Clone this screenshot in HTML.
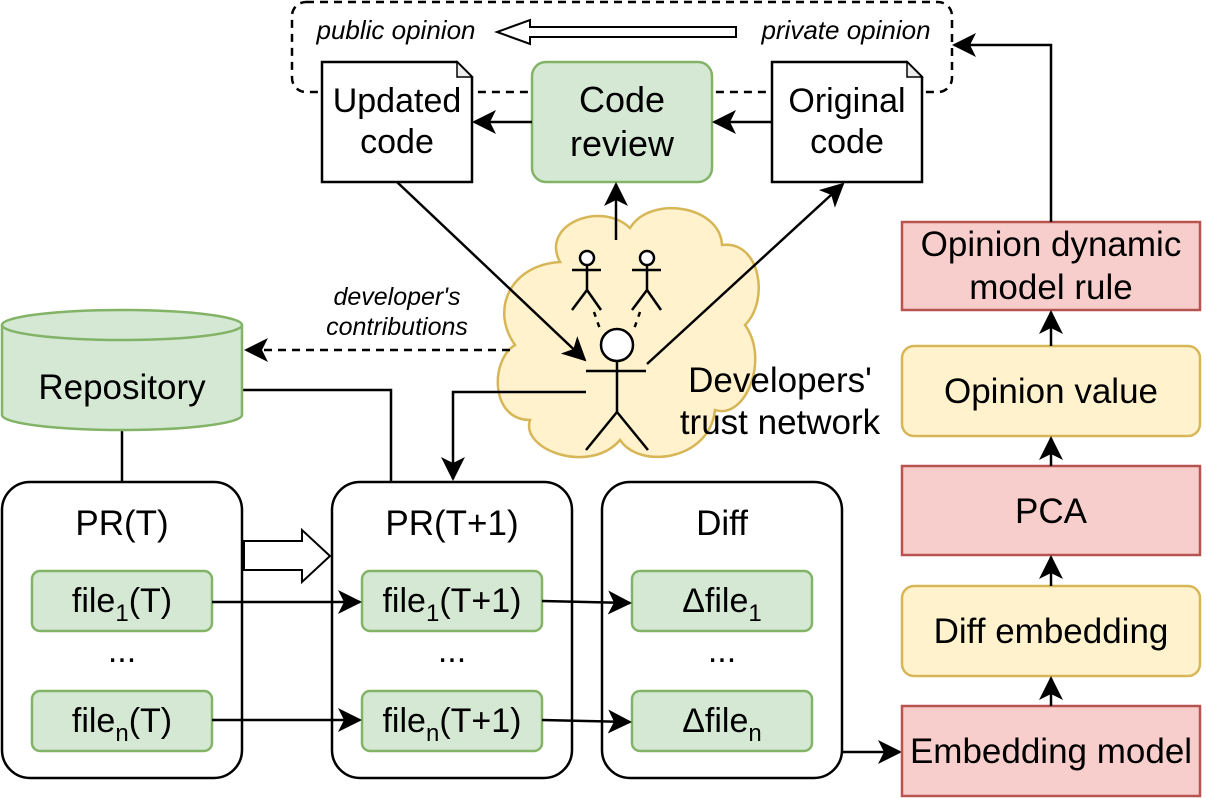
<!DOCTYPE html>
<html><head><meta charset="utf-8"><style>
html,body{margin:0;padding:0;background:#fff;}
svg{display:block;font-family:"Liberation Sans",Arial,sans-serif;}
</style></head><body>
<svg width="1206" height="798" viewBox="0 0 1206 798" xmlns="http://www.w3.org/2000/svg">
<defs>
<marker id="b" markerWidth="24" markerHeight="24" viewBox="0 0 12 12" refX="11" refY="6" orient="auto" markerUnits="userSpaceOnUse">
<path d="M0,0 L12,6 L0,12 L3,6 Z" fill="#000"/>
</marker>
</defs>
<g stroke="#000" stroke-width="2.5" fill="none">
<rect x="292" y="2" width="660" height="90" rx="14" stroke-dasharray="8,6"/>
</g>
<path d="M736,27 L530,27 L530,20 L497,32 L530,44 L530,37 L736,37 Z" fill="#fff" stroke="#000" stroke-width="2"/>
<text x="396" y="39" font-size="26" font-style="italic" text-anchor="middle">public opinion</text>
<text x="846" y="39" font-size="26" font-style="italic" text-anchor="middle">private opinion</text>

<path d="M322,62 L457,62 L472,77 L472,182 L322,182 Z" fill="#fff" stroke="#000" stroke-width="2.5"/>
<path d="M457,62 L457,77 L472,77 Z" fill="#eee" stroke="#000" stroke-width="1.5"/>
<text x="397" y="112" font-size="34" text-anchor="middle">Updated</text>
<text x="397" y="153" font-size="34" text-anchor="middle">code</text>
<path d="M772,62 L907,62 L922,77 L922,182 L772,182 Z" fill="#fff" stroke="#000" stroke-width="2.5"/>
<path d="M907,62 L907,77 L922,77 Z" fill="#eee" stroke="#000" stroke-width="1.5"/>
<text x="847" y="112" font-size="34" text-anchor="middle">Original</text>
<text x="847" y="153" font-size="34" text-anchor="middle">code</text>
<rect x="532" y="62" width="180" height="120" rx="14" fill="#d5e8d4" stroke="#82b366" stroke-width="2.5"/>
<text x="622" y="112" font-size="36" text-anchor="middle">Code</text>
<text x="622" y="156" font-size="36" text-anchor="middle">review</text>

<g stroke="#000" stroke-width="2.5" fill="none">
<line x1="532" y1="122" x2="474" y2="122" marker-end="url(#b)"/>
<line x1="772" y1="122" x2="714" y2="122" marker-end="url(#b)"/>
</g>

<path d="M560,262 C540,225 600,200 630,228 C650,195 720,205 722,245 C760,240 770,300 745,325 C770,360 745,420 715,410 C710,460 640,470 620,440 C590,475 520,450 530,420 C490,420 490,360 515,345 C490,310 510,265 560,262 Z" fill="#fff2cc" stroke="#d6b656" stroke-width="2.5"/>

<g stroke="#000" stroke-width="2.5" fill="none">
<line x1="616" y1="240" x2="616" y2="184" marker-end="url(#b)"/>
<line x1="397" y1="182" x2="585" y2="360" marker-end="url(#b)"/>
<line x1="647" y1="364" x2="843" y2="184" marker-end="url(#b)"/>
<circle cx="587" cy="258" r="7" fill="#fff"/>
<line x1="572" y1="270" x2="601" y2="270"/><line x1="587" y1="265" x2="587" y2="290"/>
<line x1="572" y1="310" x2="587" y2="290"/><line x1="601" y1="310" x2="587" y2="290"/>
<circle cx="647" cy="258" r="7" fill="#fff"/>
<line x1="632" y1="270" x2="661" y2="270"/><line x1="647" y1="265" x2="647" y2="290"/>
<line x1="632" y1="310" x2="647" y2="290"/><line x1="661" y1="310" x2="647" y2="290"/>
<line x1="594" y1="312" x2="601" y2="332" stroke-dasharray="5,6"/>
<line x1="640" y1="312" x2="633" y2="332" stroke-dasharray="5,6"/>
<circle cx="617" cy="345" r="16" fill="#fff"/>
<line x1="586" y1="371" x2="646" y2="371"/><line x1="617" y1="361" x2="617" y2="412"/>
<line x1="586" y1="450" x2="617" y2="412"/><line x1="648" y1="450" x2="617" y2="412"/>
<line x1="510" y1="350" x2="246" y2="350" stroke-dasharray="8,6" marker-end="url(#b)"/>
<line x1="122" y1="430" x2="122" y2="482"/>
<polyline points="242,390 391,390 391,482"/>
<polyline points="586,392 453,392 453,479" marker-end="url(#b)"/>
</g>
<text x="780" y="392" font-size="35" text-anchor="middle">Developers'</text>
<text x="780" y="434" font-size="35" text-anchor="middle">trust network</text>
<text x="397" y="305" font-size="25" font-style="italic" text-anchor="middle">developer's</text>
<text x="397" y="335" font-size="25" font-style="italic" text-anchor="middle">contributions</text>

<path d="M2,325 L2,415 A120,15 0 0 0 242,415 L242,325" fill="#d5e8d4" stroke="#82b366" stroke-width="2.5"/>
<ellipse cx="122" cy="325" rx="120" ry="15" fill="#d5e8d4" stroke="#82b366" stroke-width="2.5"/>
<text x="122" y="399" font-size="35" text-anchor="middle">Repository</text>

<g fill="#fff" stroke="#000" stroke-width="2.5">
<rect x="2" y="482" width="240" height="296" rx="28"/>
<rect x="332" y="482" width="240" height="296" rx="28"/>
<rect x="602" y="482" width="240" height="296" rx="28"/>
</g>
<path d="M244,541 L302,541 L302,530 L330,556 L302,582 L302,570 L244,570 Z" fill="#fff" stroke="#000" stroke-width="2"/>
<text x="122" y="535" font-size="35" text-anchor="middle">PR(T)</text>
<text x="452" y="535" font-size="35" text-anchor="middle">PR(T+1)</text>
<text x="722" y="535" font-size="35" text-anchor="middle">Diff</text>
<g fill="#d5e8d4" stroke="#82b366" stroke-width="2.5">
<rect x="32" y="571" width="180" height="60" rx="8"/>
<rect x="32" y="691" width="180" height="60" rx="8"/>
<rect x="362" y="571" width="180" height="60" rx="8"/>
<rect x="362" y="691" width="180" height="60" rx="8"/>
<rect x="632" y="571" width="180" height="60" rx="8"/>
<rect x="632" y="691" width="180" height="60" rx="8"/>
</g>
<g font-size="34" text-anchor="middle">
<text x="122" y="612">file<tspan font-size="24" dy="9">1</tspan><tspan dy="-9">(T)</tspan></text>
<text x="122" y="732">file<tspan font-size="24" dy="9">n</tspan><tspan dy="-9">(T)</tspan></text>
<text x="452" y="612">file<tspan font-size="24" dy="9">1</tspan><tspan dy="-9">(T+1)</tspan></text>
<text x="452" y="732">file<tspan font-size="24" dy="9">n</tspan><tspan dy="-9">(T+1)</tspan></text>
<text x="722" y="612">Δfile<tspan font-size="24" dy="9">1</tspan></text>
<text x="722" y="732">Δfile<tspan font-size="24" dy="9">n</tspan></text>
<text x="122" y="662">...</text>
<text x="452" y="662">...</text>
<text x="722" y="662">...</text>
</g>
<g stroke="#000" stroke-width="2.5" fill="none">
<line x1="212" y1="602" x2="360" y2="602" marker-end="url(#b)"/>
<line x1="212" y1="720" x2="360" y2="720" marker-end="url(#b)"/>
<line x1="542" y1="601" x2="630" y2="603" marker-end="url(#b)"/>
<line x1="542" y1="720" x2="630" y2="722" marker-end="url(#b)"/>
<line x1="842" y1="752" x2="900" y2="752" marker-end="url(#b)"/>
</g>

<rect x="902" y="222" width="298" height="88" fill="#f8cecc" stroke="#b85450" stroke-width="2.5"/>
<text x="1051" y="256" font-size="35" text-anchor="middle">Opinion dynamic</text>
<text x="1051" y="299" font-size="35" text-anchor="middle">model rule</text>
<rect x="902" y="346" width="298" height="90" rx="12" fill="#fff2cc" stroke="#d6b656" stroke-width="2.5"/>
<text x="1051" y="403" font-size="35" text-anchor="middle">Opinion value</text>
<rect x="902" y="466" width="298" height="89" fill="#f8cecc" stroke="#b85450" stroke-width="2.5"/>
<text x="1051" y="523" font-size="35" text-anchor="middle">PCA</text>
<rect x="902" y="586" width="298" height="90" rx="12" fill="#fff2cc" stroke="#d6b656" stroke-width="2.5"/>
<text x="1051" y="643" font-size="35" text-anchor="middle">Diff embedding</text>
<rect x="902" y="706" width="298" height="90" fill="#f8cecc" stroke="#b85450" stroke-width="2.5"/>
<text x="1051" y="763" font-size="35" text-anchor="middle">Embedding model</text>
<g stroke="#000" stroke-width="2.5" fill="none">
<line x1="1051" y1="706" x2="1051" y2="678" marker-end="url(#b)"/>
<line x1="1051" y1="586" x2="1051" y2="557" marker-end="url(#b)"/>
<line x1="1051" y1="466" x2="1051" y2="438" marker-end="url(#b)"/>
<line x1="1051" y1="346" x2="1051" y2="312" marker-end="url(#b)"/>
<polyline points="1051,222 1051,45 954,45" marker-end="url(#b)"/>
</g>
</svg>
</body></html>
